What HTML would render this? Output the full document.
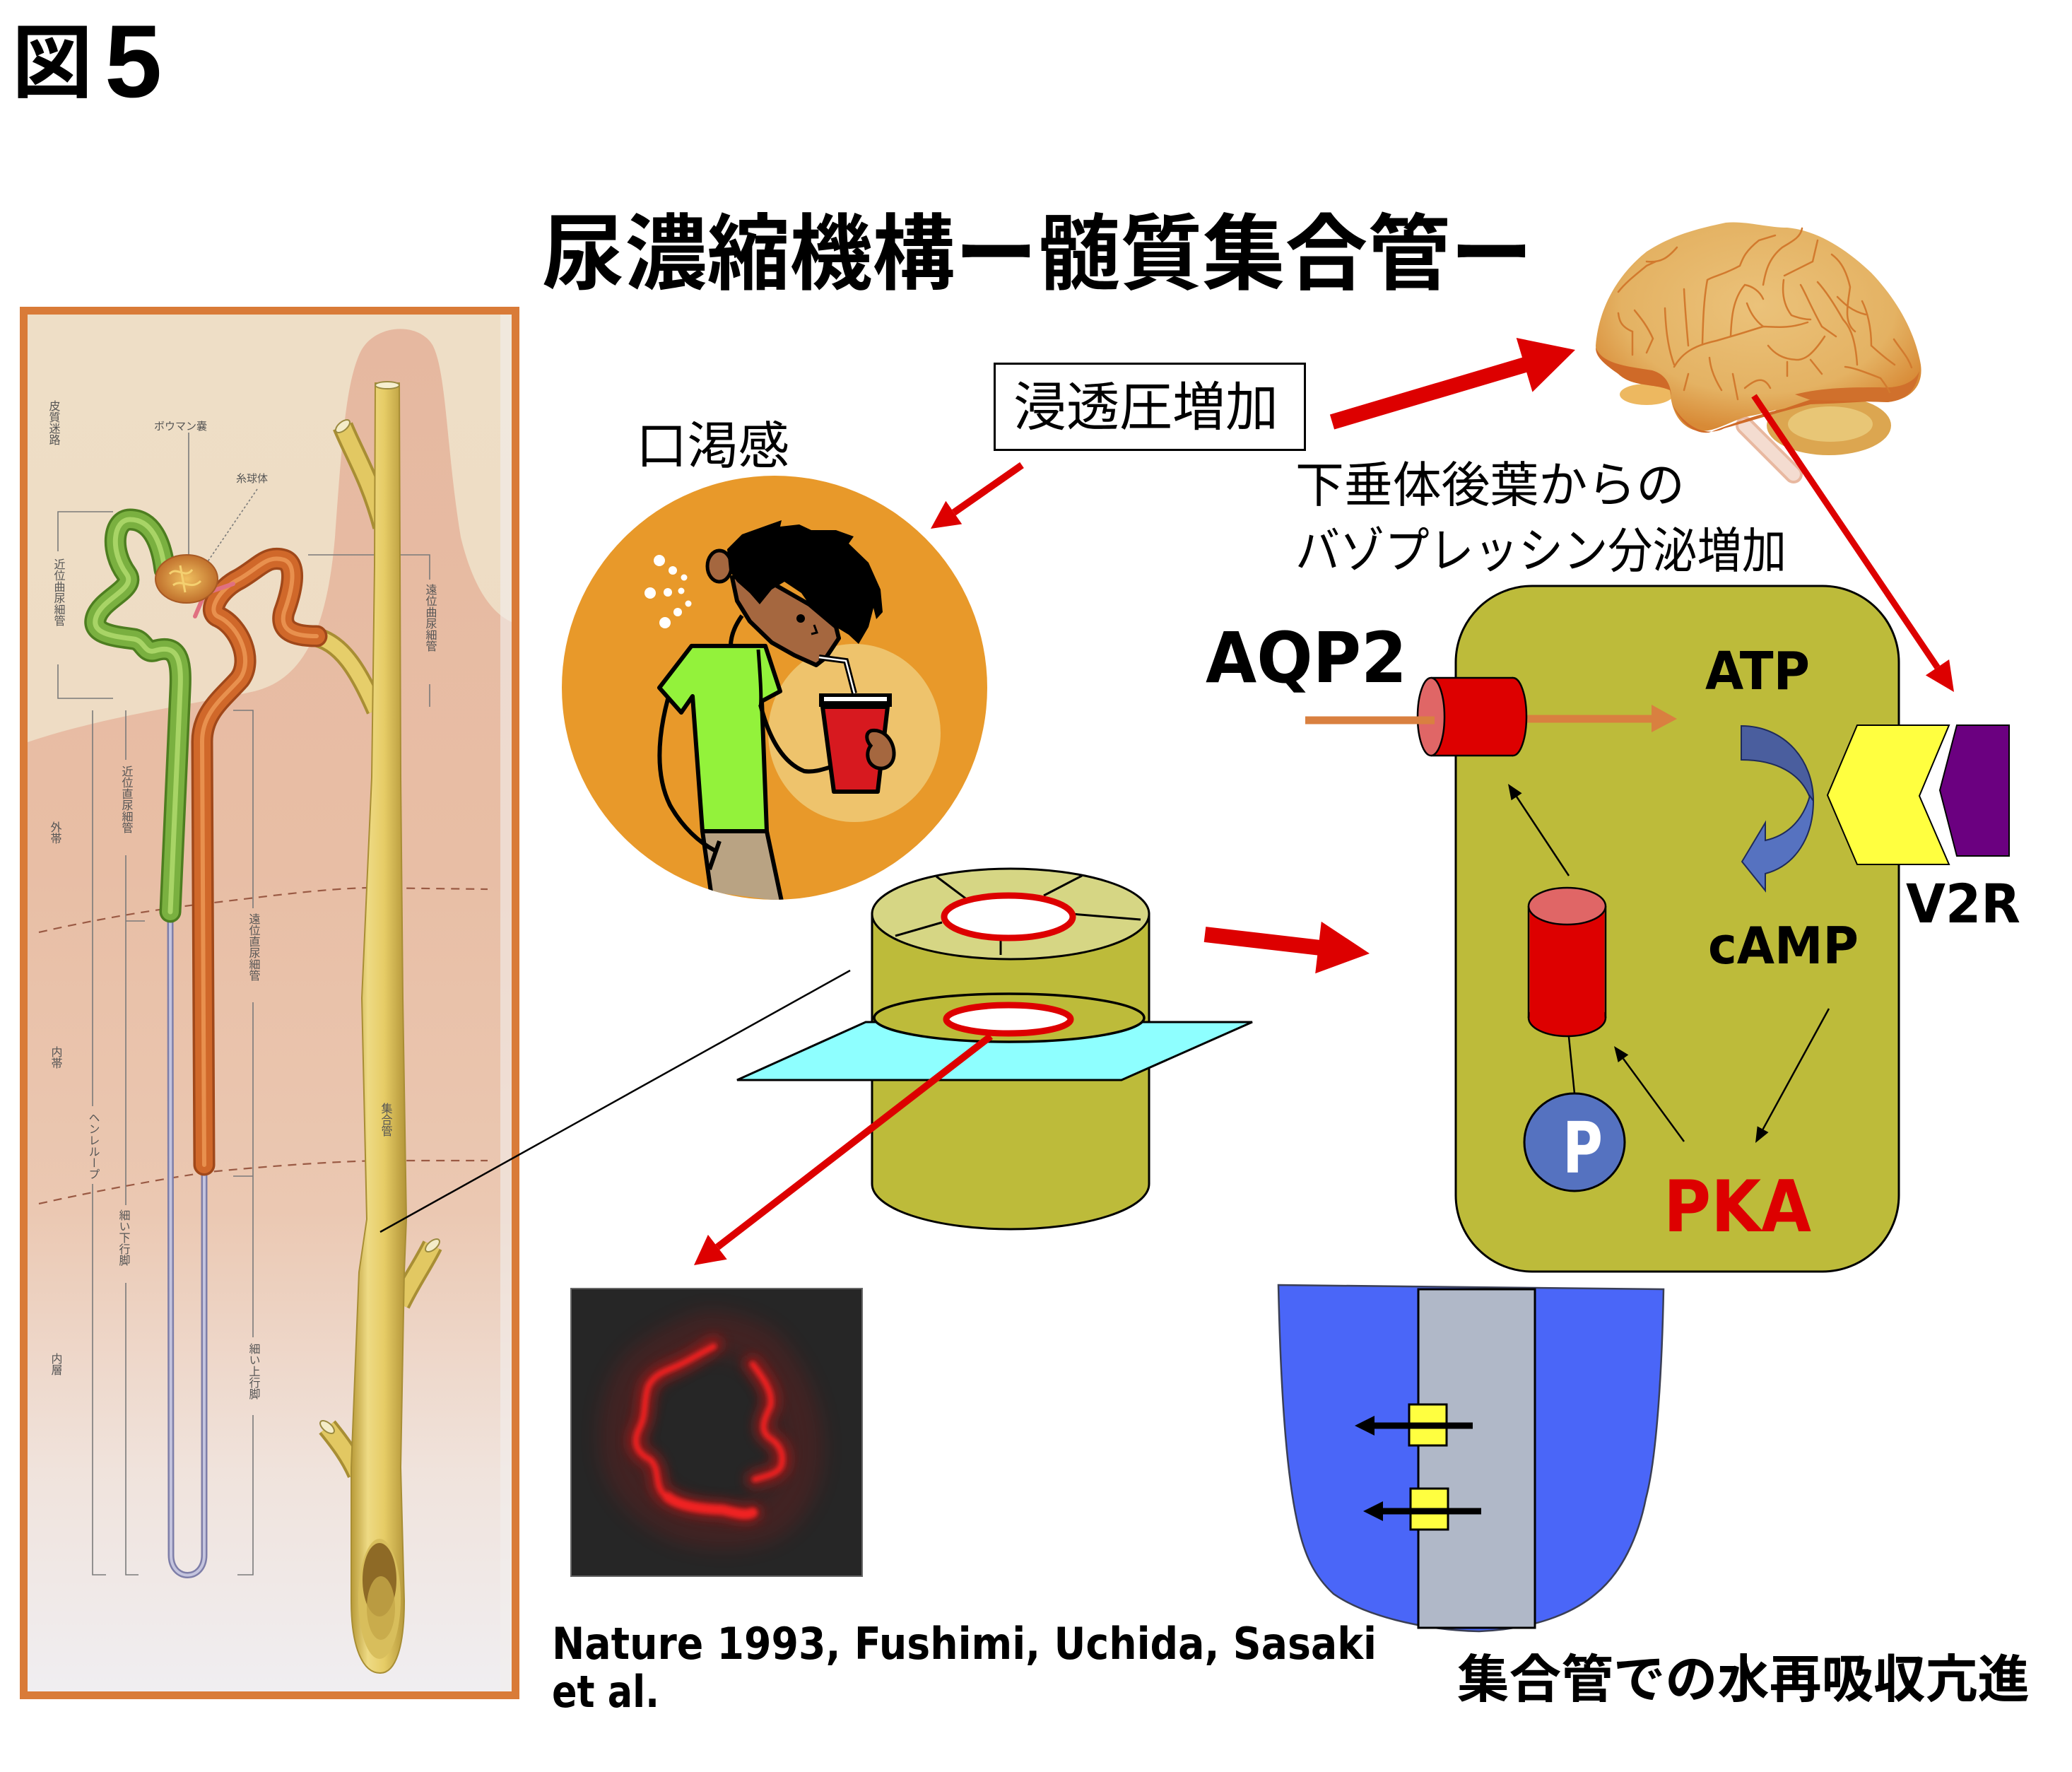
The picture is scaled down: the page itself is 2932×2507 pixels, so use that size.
<!DOCTYPE html>
<html><head><meta charset="utf-8">
<style>
html,body{margin:0;padding:0;background:#fff;}
svg{display:block;}
.jp{font-family:"Liberation Sans","Noto Sans CJK JP",sans-serif;}
.lb{font-family:"DejaVu Sans","Liberation Sans",sans-serif;font-weight:bold;}
</style></head>
<body>
<svg width="2932" height="2507" viewBox="0 0 2932 2507" xmlns="http://www.w3.org/2000/svg">
<defs>
  <linearGradient id="bgTop" x1="0" y1="0" x2="0" y2="1">
    <stop offset="0" stop-color="#EEDEC6"/>
    <stop offset="0.3" stop-color="#EEDCC4"/>
    <stop offset="1" stop-color="#EEDCC4"/>
  </linearGradient>
  <linearGradient id="pink" gradientUnits="userSpaceOnUse" x1="0" y1="450" x2="0" y2="2393">
    <stop offset="0" stop-color="#E6B8A0"/>
    <stop offset="0.4" stop-color="#E8BEA5"/>
    <stop offset="0.65" stop-color="#EBC8B2"/>
    <stop offset="0.84" stop-color="#F0E3DC"/>
    <stop offset="1" stop-color="#F0EEF1"/>
  </linearGradient>
  <linearGradient id="yel" x1="0" y1="0" x2="1" y2="0">
    <stop offset="0" stop-color="#B89A38"/>
    <stop offset="0.3" stop-color="#EEDA84"/>
    <stop offset="0.6" stop-color="#E6CC66"/>
    <stop offset="1" stop-color="#B29438"/>
  </linearGradient>
  <radialGradient id="brainG" cx="0.5" cy="0.4" r="0.6">
    <stop offset="0" stop-color="#EBC27A"/>
    <stop offset="0.7" stop-color="#E4B263"/>
    <stop offset="1" stop-color="#D88A36"/>
  </radialGradient>
  <radialGradient id="glom" cx="0.5" cy="0.5" r="0.5">
    <stop offset="0" stop-color="#F0C060"/>
    <stop offset="1" stop-color="#C0702C"/>
  </radialGradient>
  <filter id="blur3" x="-20%" y="-20%" width="140%" height="140%"><feGaussianBlur stdDeviation="3"/></filter>
  <filter id="blur8" x="-20%" y="-20%" width="140%" height="140%"><feGaussianBlur stdDeviation="8"/></filter>
  <filter id="blur14" x="-30%" y="-30%" width="160%" height="160%"><feGaussianBlur stdDeviation="14"/></filter>
  <clipPath id="circClip"><ellipse cx="1096" cy="973" rx="301" ry="300"/></clipPath>
  <clipPath id="nephClip"><rect x="39" y="445" width="685" height="1948"/></clipPath>
  <clipPath id="microClip"><rect x="808" y="1823" width="412" height="407"/></clipPath>
</defs>

<!-- 図5 -->
<text x="17" y="129" class="jp" font-size="114" font-weight="bold" fill="#000">図</text>
<text x="148" y="137" font-family="Liberation Sans, sans-serif" font-size="146" font-weight="bold" fill="#000">5</text>

<!-- Title -->
<text x="767" y="400" class="jp" font-size="117" font-weight="bold" fill="#000" textLength="1402" lengthAdjust="spacingAndGlyphs">尿濃縮機構ー髄質集合管ー</text>

<!-- ================= Nephron picture ================= -->
<g clip-path="url(#nephClip)">
  <rect x="39" y="445" width="685" height="1948" fill="url(#bgTop)"/>
  <path d="M39,1050 C150,1012 300,992 360,978 C425,962 462,900 474,760 C484,620 490,540 510,498 C530,458 592,455 612,488 C632,525 632,640 652,760 C672,842 702,870 724,880 L724,2393 L39,2393 Z" fill="url(#pink)"/>
  <rect x="708" y="445" width="16" height="1948" fill="#F2EEEC" opacity="0.6"/>

  <g stroke="#7A7A7A" stroke-width="1.6" fill="none">
    <path d="M160,724 L82,724 L82,780 M82,940 L82,988 L160,988"/>
    <path d="M131,1005 L131,1565 M131,1675 L131,2228 L150,2228"/>
    <path d="M178,1005 L178,1075 M178,1210 L178,1705 M178,1815 L178,2228 L196,2228"/>
    <path d="M330,1005 L358,1005 L358,1285 M358,1418 L358,1892 M358,2002 L358,2228 L336,2228"/>
    <path d="M436,785 L608,785 L608,820 M608,968 L608,1000"/>
    <path d="M267,612 L267,799"/>
    <path d="M364,692 L286,806" stroke-dasharray="3,3"/>
    <path d="M178,1303 L205,1303"/>
    <path d="M330,1664 L358,1664"/>
  </g>
  <g stroke="#9A5A44" stroke-width="2.2" fill="none" stroke-dasharray="12,9">
    <path d="M55,1319 C140,1300 200,1290 269,1281 C380,1268 450,1258 519,1256 L690,1258"/>
    <path d="M55,1703 C150,1682 230,1668 296,1658 C400,1648 480,1643 540,1642 L690,1642"/>
  </g>

  <g fill="none" stroke-linecap="butt">
    <path d="M485,603 C500,640 525,680 542,745" stroke="#A88E34" stroke-width="30"/>
    <path d="M485,603 C500,640 525,680 542,745" stroke="#E2C862" stroke-width="22"/>
    <path d="M612,1762 C598,1790 582,1812 566,1845" stroke="#A88E34" stroke-width="30"/>
    <path d="M612,1762 C598,1790 582,1812 566,1845" stroke="#E2C862" stroke-width="22"/>
    <path d="M463,2019 C480,2040 495,2060 506,2085" stroke="#A88E34" stroke-width="30"/>
    <path d="M463,2019 C480,2040 495,2060 506,2085" stroke="#E2C862" stroke-width="22"/>
    <path d="M440,900 C482,905 508,950 532,1005" stroke="#A88E34" stroke-width="28"/>
    <path d="M440,900 C482,905 508,950 532,1005" stroke="#E6CE6A" stroke-width="20"/>
  </g>
  <ellipse cx="485" cy="603" rx="12" ry="6" fill="#F4ECC8" stroke="#9A8A40" stroke-width="2" transform="rotate(-40 485 603)"/>
  <ellipse cx="612" cy="1762" rx="12" ry="6" fill="#F4ECC8" stroke="#9A8A40" stroke-width="2" transform="rotate(-40 612 1762)"/>
  <ellipse cx="463" cy="2019" rx="12" ry="6" fill="#F4ECC8" stroke="#9A8A40" stroke-width="2" transform="rotate(40 463 2019)"/>
  <path d="M531,542 L565,542 L566,800 L567,1100 L570,1412 L575,1725 L572,1800 L567,2076 L572,2265 C572,2330 560,2367 538,2367 C513,2367 497,2330 497,2265 L497,2076 L508,1800 L519,1725 L512,1412 L526,1100 L530,800 Z" fill="url(#yel)" stroke="#A88E34" stroke-width="2"/>
  <ellipse cx="548" cy="545" rx="17" ry="5" fill="#F6EFD0" stroke="#9A8A40" stroke-width="2"/>
  <ellipse cx="537" cy="2262" rx="30" ry="85" fill="#D8BE5C"/>
  <ellipse cx="537" cy="2235" rx="24" ry="52" fill="#8E6A26"/>
  <ellipse cx="539" cy="2275" rx="20" ry="45" fill="#C6A848" opacity="0.8"/>

  <path d="M241,1296 L242,2200 C242,2238 289,2238 289,2200 L289,1650" fill="none" stroke="#7E7EA8" stroke-width="9"/>
  <path d="M241,1296 L242,2200 C242,2238 289,2238 289,2200 L289,1650" fill="none" stroke="#C4C4DE" stroke-width="4"/>

  <g fill="none" stroke-linecap="round" stroke-linejoin="round">
    <path d="M233,806 C228,765 213,735 184,735 C160,735 155,779 179,812 C194,833 145,846 136,873 C128,897 160,900 189,904 C204,906 204,924 218,921 C252,910 257,934 255,975 L241,1290" stroke="#4D7E20" stroke-width="31"/>
    <path d="M233,806 C228,765 213,735 184,735 C160,735 155,779 179,812 C194,833 145,846 136,873 C128,897 160,900 189,904 C204,906 204,924 218,921 C252,910 257,934 255,975 L241,1290" stroke="#7AB040" stroke-width="24"/>
    <path d="M233,806 C228,765 213,735 184,735 C160,735 155,779 179,812 C194,833 145,846 136,873 C128,897 160,900 189,904 C204,906 204,924 218,921 C252,910 257,934 255,975 L241,1290" stroke="#A8D466" stroke-width="7"/>
  </g>
  <g fill="none" stroke-linecap="round" stroke-linejoin="round">
    <path d="M289,1648 L286,1049 C286,1008 315,988 339,961 C359,934 339,887 310,873 C291,866 310,833 339,819 C368,802 378,785 402,792 C422,799 412,839 402,866 C395,893 417,900 448,900" stroke="#A0481A" stroke-width="31"/>
    <path d="M289,1648 L286,1049 C286,1008 315,988 339,961 C359,934 339,887 310,873 C291,866 310,833 339,819 C368,802 378,785 402,792 C422,799 412,839 402,866 C395,893 417,900 448,900" stroke="#D0682A" stroke-width="24"/>
    <path d="M289,1648 L286,1049 C286,1008 315,988 339,961 C359,934 339,887 310,873 C291,866 310,833 339,819 C368,802 378,785 402,792 C422,799 412,839 402,866 C395,893 417,900 448,900" stroke="#E8904E" stroke-width="6"/>
  </g>
  <path d="M295,838 L330,826 M287,846 L276,872" stroke="#E07080" stroke-width="6" stroke-linecap="round"/>
  <ellipse cx="264" cy="819" rx="44" ry="34" fill="url(#glom)" stroke="#A85A24" stroke-width="2"/>
  <path d="M240,812 C250,800 262,820 272,806 M245,828 C258,818 270,836 284,822 M255,800 L262,838" stroke="#F4D070" stroke-width="3" fill="none"/>

  <g class="jp" font-size="15" fill="#555">
    <text x="218" y="608">ボウマン嚢</text>
    <text x="334" y="682">糸球体</text>
  </g>
  <g class="jp" font-size="16" fill="#555" style="writing-mode:vertical-rl" text-anchor="start">
    <text x="75" y="566">皮質迷路</text>
    <text x="82" y="790">近位曲尿細管</text>
    <text x="608" y="826">遠位曲尿細管</text>
    <text x="178" y="1083">近位直尿細管</text>
    <text x="77" y="1162">外帯</text>
    <text x="358" y="1292">遠位直尿細管</text>
    <text x="78" y="1480">内帯</text>
    <text x="131" y="1573">ヘンレループ</text>
    <text x="174" y="1711">細い下行脚</text>
    <text x="545" y="1560">集合管</text>
    <text x="78" y="1914">内層</text>
    <text x="358" y="1900">細い上行脚</text>
  </g>
</g>
<rect x="33.5" y="439.5" width="696" height="1959" fill="none" stroke="#D97B38" stroke-width="11"/>

<line x1="1203" y1="1373" x2="538" y2="1743" stroke="#000" stroke-width="2.5"/>

<!-- ================= Person circle ================= -->
<ellipse cx="1096" cy="973" rx="301" ry="300" fill="#E8992A"/>
<g clip-path="url(#circClip)">
  <ellipse cx="1209" cy="1037" rx="122" ry="126" fill="#EEC36C"/>
  <g fill="#fff">
    <circle cx="933" cy="793" r="8"/><circle cx="952" cy="807" r="6"/><circle cx="968" cy="817" r="4.5"/>
    <circle cx="920" cy="839" r="8"/><circle cx="945" cy="838" r="6"/><circle cx="964" cy="836" r="4.5"/>
    <circle cx="974" cy="854" r="4.5"/><circle cx="959" cy="866" r="6"/><circle cx="941" cy="881" r="8"/>
  </g>
  <polygon points="994,1176 1085,1176 1106,1275 1006,1262" fill="#B9A383"/>
  <path d="M994,1176 L1006,1262 M1085,1176 L1106,1275 M1018,1190 L1004,1230" stroke="#000" stroke-width="6" fill="none"/>
  <path d="M945,989 C931,1042 927,1096 948,1139 C966,1171 990,1192 1011,1203" stroke="#000" stroke-width="6" fill="none"/>
  <path d="M1050,871 C1040,885 1034,900 1034,914" stroke="#000" stroke-width="6" fill="none"/>
  <polygon points="978.5,913.9 1083,913.9 1104,978 1078,992 1085,1176 994,1176 980,985 964,1008 933,973" fill="#93F23B" stroke="#000" stroke-width="6" stroke-linejoin="round"/>
  <path d="M1073,919 C1076,960 1078,990 1076,1000" stroke="#000" stroke-width="5" fill="none"/>
  <path d="M1076,997 C1089,1048 1110,1080 1138,1091 C1152,1093 1166,1088 1176,1085" stroke="#000" stroke-width="6" fill="none"/>
  <polygon points="1036,817 1043,850 1061,879 1092,909 1124,927 1155,941 1169,930 1187,903 1183,887 1145,855 1089,823 1075,812" fill="#A5673F" stroke="#000" stroke-width="6" stroke-linejoin="round"/>
  <ellipse cx="1018" cy="801" rx="17" ry="22" fill="#A5673F" stroke="#000" stroke-width="5"/>
  <polygon points="1029,777 1050,756 1089,742 1106,736 1104,745 1131,742 1148,750 1183,750 1208,759 1201,769 1229,796 1246,834 1249,866 1240,876 1236,860 1229,887 1215,911 1201,898 1183,887 1145,855 1134,839 1110,823 1092,834 1075,855 1061,839 1043,823 1032,807" fill="#000"/>
  <circle cx="1133" cy="875" r="6" fill="#000"/>
  <path d="M1152,884 L1156,895 L1148,897" stroke="#000" stroke-width="3" fill="none"/>
  <polyline points="1159,930 1197,935 1209,981" fill="none" stroke="#000" stroke-width="8"/>
  <polyline points="1159,930 1197,935 1209,981" fill="none" stroke="#fff" stroke-width="2.5"/>
  <polygon points="1164,1000 1256,1000 1242,1120 1180,1120" fill="#D7191F" stroke="#000" stroke-width="6" stroke-linejoin="round"/>
  <rect x="1159" y="981" width="103" height="19" fill="#000"/>
  <rect x="1166" y="986" width="89" height="6" fill="#fff"/>
  <path d="M1232,1034 C1250,1030 1266,1048 1265,1068 C1264,1083 1252,1090 1240,1086 C1226,1080 1225,1064 1232,1055 C1226,1048 1224,1038 1232,1034 Z" fill="#A5673F" stroke="#000" stroke-width="5"/>
</g>

<text x="900" y="656" class="jp" font-size="72" fill="#000" textLength="217" lengthAdjust="spacingAndGlyphs">口渇感</text>

<rect x="1407.5" y="514.5" width="439" height="122" fill="#fff" stroke="#000" stroke-width="3"/>
<text x="1434" y="602" class="jp" font-size="75" fill="#000" textLength="375" lengthAdjust="spacingAndGlyphs">浸透圧増加</text>

<line x1="1446" y1="658" x2="1349.8" y2="725.1" stroke="#DD0000" stroke-width="10"/>
<polygon points="1317,748 1338.4,708.7 1361.2,741.5" fill="#DD0000"/>

<polygon points="1888.1,607.5 2160.2,526.8 2168.5,554.6 2229,495 2145.7,478.0 2154.0,505.8 1881.9,586.5" fill="#DD0000"/>

<!-- ================= Brain ================= -->
<g>
  <path d="M2469,602 L2538,671" stroke="#E8B8A0" stroke-width="26" stroke-linecap="round"/>
  <path d="M2469,602 L2538,671" stroke="#F4DCD0" stroke-width="18" stroke-linecap="round"/>
  <ellipse cx="2588" cy="602" rx="88" ry="42" fill="#DCA650"/>
  <ellipse cx="2590" cy="600" rx="60" ry="25" fill="#E8C676"/>
  <ellipse cx="2330" cy="558" rx="38" ry="15" fill="#EDB860"/>
  <path d="M2258,489 C2262,440 2285,392 2330,356 C2370,330 2410,322 2442,315 C2470,312 2500,322 2529,322 C2570,326 2610,350 2648,386 C2685,425 2710,470 2718,516 C2722,545 2705,565 2671,569 L2562,565 C2540,572 2500,585 2469,590 C2440,600 2420,615 2396,608 C2375,600 2365,580 2363,552 C2340,542 2310,548 2290,529 C2270,515 2258,505 2258,489 Z" fill="url(#brainG)"/>
  <path d="M2258,492 C2268,515 2300,518 2338,524 C2358,530 2364,545 2365,560 L2363,552 C2340,542 2310,548 2290,529 C2270,515 2258,505 2258,492 Z" fill="#CF6A28"/>
  <path d="M2366,572 C2380,602 2400,614 2418,612 C2445,602 2480,588 2525,578 L2560,566 C2600,560 2650,565 2685,562 C2660,568 2620,570 2562,572 C2520,582 2470,598 2440,606 C2420,616 2390,612 2366,572 Z" fill="#CF6A28"/>
  <path d="M2540,558 C2580,548 2620,548 2660,548 C2690,550 2710,540 2716,525 C2712,550 2700,566 2671,569 L2562,566 Z" fill="#D0702C"/>
  <g fill="none" stroke="#D27A2E" stroke-width="2.5" stroke-linecap="round">
    <path d="M2290,413 C2300,400 2313,390 2330,376 L2343,370"/>
    <path d="M2369,519 C2380,500 2396,489 2429,482 C2450,476 2470,470 2495,462 C2510,462 2529,466 2558,456"/>
    <path d="M2409,486 C2410,450 2411,423 2416,396 C2426,390 2436,390 2462,376 C2466,366 2469,356 2489,340 L2512,333"/>
    <path d="M2495,403 C2498,386 2502,366 2522,350 C2535,342 2548,336 2550,323"/>
    <path d="M2525,390 C2535,385 2545,380 2565,370 L2572,340"/>
    <path d="M2592,360 C2600,366 2611,376 2618,406 C2615,430 2608,456 2625,469"/>
    <path d="M2635,426 C2642,440 2648,462 2648,489 C2660,500 2671,509 2681,516"/>
    <path d="M2449,476 C2450,450 2452,423 2469,403 C2480,405 2490,412 2495,423"/>
    <path d="M2472,429 C2476,440 2482,452 2495,462"/>
    <path d="M2524,396 C2522,410 2522,429 2535,446 C2545,450 2555,452 2562,452"/>
    <path d="M2548,403 C2555,415 2562,433 2578,462 L2598,476"/>
    <path d="M2572,399 C2582,410 2595,429 2608,452 C2615,460 2625,472 2628,516"/>
    <path d="M2383,409 C2384,430 2386,456 2389,489"/>
    <path d="M2356,436 C2357,460 2359,489 2369,516"/>
    <path d="M2313,439 C2320,448 2330,459 2339,479 L2330,499"/>
    <path d="M2290,443 C2291,452 2293,462 2310,469 L2310,502"/>
    <path d="M2419,506 C2420,515 2422,529 2436,552"/>
    <path d="M2452,529 L2459,565"/>
    <path d="M2469,549 C2480,540 2495,529 2505,549"/>
    <path d="M2502,489 C2510,499 2522,509 2545,509 C2552,508 2562,506 2582,476"/>
    <path d="M2529,512 L2529,532"/>
    <path d="M2562,509 L2578,529"/>
    <path d="M2389,529 L2383,552"/>
    <path d="M2611,519 C2620,520 2628,522 2661,535 C2667,543 2672,550 2674,555"/>
    <path d="M2330,370 C2350,372 2360,365 2373,350"/>
    <path d="M2600,420 C2610,430 2620,440 2640,445"/>
    <path d="M2680,480 C2690,495 2700,505 2705,520"/>
  </g>
</g>

<line x1="2482" y1="560" x2="2741.5" y2="944.2" stroke="#DD0000" stroke-width="9"/>
<polygon points="2765,979 2724.9,955.4 2758.1,933.0" fill="#DD0000"/>

<text x="1833" y="710" class="jp" font-size="69" fill="#000" textLength="551" lengthAdjust="spacingAndGlyphs">下垂体後葉からの</text>
<text x="1833" y="803" class="jp" font-size="69" fill="#000" textLength="695" lengthAdjust="spacingAndGlyphs">バゾプレッシン分泌増加</text>

<!-- ================= Cell ================= -->
<rect x="2060" y="829" width="627" height="970" rx="108" ry="108" fill="#BDBB3A" stroke="#000" stroke-width="3"/>

<polygon points="2628,1026 2758,1026 2716,1126 2758,1223 2628,1223 2586,1125" fill="#FFFF40" stroke="#000" stroke-width="2"/>
<polygon points="2769,1026 2843,1026 2843,1211 2769,1211 2745,1118" fill="#6B0080" stroke="#000" stroke-width="2"/>
<text x="2697" y="1305" class="lb" font-size="76" fill="#000" textLength="162" lengthAdjust="spacingAndGlyphs">V2R</text>

<text x="1706" y="965" class="lb" font-size="99" fill="#000" textLength="285" lengthAdjust="spacingAndGlyphs">AQP2</text>
<line x1="2150" y1="1017" x2="2340" y2="1017" stroke="#D98040" stroke-width="11"/>
<polygon points="2337,997 2373,1017 2337,1036" fill="#D98040"/>
<ellipse cx="2141" cy="1014" rx="19" ry="55" fill="#DD0000" stroke="#000" stroke-width="2.5"/>
<rect x="2025" y="959" width="116" height="110" fill="#DD0000"/>
<line x1="2025" y1="959" x2="2141" y2="959" stroke="#000" stroke-width="2.5"/>
<line x1="2025" y1="1069" x2="2141" y2="1069" stroke="#000" stroke-width="2.5"/>
<ellipse cx="2025" cy="1014" rx="19" ry="55" fill="#E06666" stroke="#000" stroke-width="2.5"/>
<line x1="1847" y1="1019" x2="2030" y2="1019" stroke="#D98040" stroke-width="11"/>

<text x="2413" y="975" class="lb" font-size="74" fill="#000" textLength="148" lengthAdjust="spacingAndGlyphs">ATP</text>
<text x="2417" y="1363" class="lb" font-size="72" fill="#000" textLength="213" lengthAdjust="spacingAndGlyphs">cAMP</text>

<path d="M2464,1027 C2525,1027 2566,1075 2566,1133 L2561,1128 C2548,1095 2515,1075 2464,1075 Z" fill="#4A5E9E" stroke="#1E2A5A" stroke-width="2"/>
<path d="M2561,1126 C2550,1165 2525,1183 2498,1189 L2498,1164 L2465,1219 L2498,1260 L2498,1236 C2540,1225 2566,1185 2566,1133 Z" fill="#5672C0" stroke="#1E2A5A" stroke-width="2"/>

<ellipse cx="2217.5" cy="1440" rx="54.5" ry="26" fill="#DD0000" stroke="#000" stroke-width="2.5"/>
<rect x="2164.5" y="1282" width="106" height="158" fill="#DD0000"/>
<line x1="2163" y1="1282" x2="2163" y2="1440" stroke="#000" stroke-width="2.5"/>
<line x1="2272" y1="1282" x2="2272" y2="1440" stroke="#000" stroke-width="2.5"/>
<ellipse cx="2217.5" cy="1282" rx="54.5" ry="26" fill="#E06666" stroke="#000" stroke-width="2.5"/>
<line x1="2220" y1="1467" x2="2228" y2="1547" stroke="#000" stroke-width="2.5"/>

<ellipse cx="2228" cy="1616" rx="71" ry="69" fill="#5572C0" stroke="#000" stroke-width="3"/>
<text x="2211" y="1659" class="lb" font-size="100" fill="#fff" textLength="57" lengthAdjust="spacingAndGlyphs">P</text>

<text x="2354" y="1742" class="lb" font-size="101" fill="#DD0000" textLength="209" lengthAdjust="spacingAndGlyphs">PKA</text>

<line x1="2220" y1="1239" x2="2146" y2="1127" stroke="#000" stroke-width="2.5"/>
<polygon points="2134,1109 2153.6,1122.3 2138.6,1132.3" fill="#000"/>
<line x1="2588" y1="1427" x2="2494.6" y2="1597.7" stroke="#000" stroke-width="2.5"/>
<polygon points="2484,1617 2486.7,1593.4 2502.5,1602.0" fill="#000"/>
<line x1="2383" y1="1615" x2="2297" y2="1497.7" stroke="#000" stroke-width="2.5"/>
<polygon points="2284,1480 2304.3,1492.4 2289.7,1503.0" fill="#000"/>

<!-- ================= Tube cylinder ================= -->
<path d="M1234,1293 L1234,1675 A196,64 0 0 0 1626,1675 L1626,1293 Z" fill="#BDBB3A" stroke="#000" stroke-width="3"/>
<polygon points="1225,1446 1772,1446 1587,1528 1043,1528" fill="#8EFFFF" stroke="#000" stroke-width="3"/>
<ellipse cx="1428" cy="1440" rx="191" ry="34" fill="#BDBB3A" stroke="#000" stroke-width="3.5"/>
<ellipse cx="1427" cy="1442" rx="88" ry="20" fill="#fff" stroke="#DD0000" stroke-width="9"/>
<ellipse cx="1430" cy="1293" rx="196" ry="64" fill="#D6D684" stroke="#000" stroke-width="3"/>
<g stroke="#000" stroke-width="3">
  <line x1="1325" y1="1240" x2="1369" y2="1273"/>
  <line x1="1531" y1="1239" x2="1477" y2="1267"/>
  <line x1="1517" y1="1293" x2="1614" y2="1301"/>
  <line x1="1333" y1="1305" x2="1267" y2="1324"/>
  <line x1="1416" y1="1324" x2="1416" y2="1351"/>
</g>
<ellipse cx="1427" cy="1297" rx="91" ry="30" fill="#fff" stroke="#DD0000" stroke-width="9"/>

<line x1="1402" y1="1466" x2="1015.3" y2="1764.3" stroke="#DD0000" stroke-width="10"/>
<polygon points="982,1790 1001.9,1746.9 1028.7,1781.7" fill="#DD0000"/>

<polygon points="1703.7,1332.9 1864.2,1351.5 1861.2,1377.3 1938,1349 1869.8,1303.9 1866.8,1329.7 1706.3,1311.1" fill="#DD0000"/>

<!-- ================= Micrograph ================= -->
<rect x="808" y="1823" width="412" height="407" fill="#262626" stroke="#666" stroke-width="2"/>
<g clip-path="url(#microClip)" fill="none" stroke-linecap="round" stroke-linejoin="round">
  <g stroke="#B01414" stroke-width="60" opacity="0.2" filter="url(#blur14)">
    <path d="M1000,1885 C960,1900 930,1915 905,1940 C880,1975 875,2020 880,2060 C890,2105 920,2130 960,2150 C1000,2165 1050,2165 1085,2150 C1120,2130 1135,2090 1135,2050 C1135,2000 1115,1950 1080,1910 C1060,1895 1030,1885 1000,1885 Z"/>
  </g>
  <g stroke="#C01818" stroke-width="26" opacity="0.6" filter="url(#blur8)">
    <path d="M1010,1902 C990,1915 975,1925 957,1933 C940,1940 925,1945 917,1962 C910,1985 915,2000 905,2020 C895,2040 900,2055 920,2065 C935,2080 925,2100 940,2115 C960,2130 990,2135 1023,2136 C1040,2140 1055,2145 1065,2140"/>
    <path d="M1068,2093 C1085,2088 1100,2085 1105,2075 C1110,2060 1105,2045 1090,2035 C1075,2025 1080,2010 1090,1990 C1095,1970 1080,1950 1065,1930"/>
  </g>
  <g stroke="#F02020" stroke-width="8" filter="url(#blur3)">
    <path d="M1010,1905 C990,1915 975,1925 957,1933 C940,1940 925,1945 917,1962 C910,1985 915,2000 905,2020 C895,2040 900,2055 920,2065 C935,2080 925,2100 940,2115"/>
    <path d="M945,2118 C960,2130 990,2135 1023,2136 C1040,2140 1055,2145 1065,2140" stroke-width="14"/>
    <path d="M1068,2093 C1085,2088 1100,2085 1105,2075 C1110,2060 1105,2045 1090,2035 C1075,2025 1080,2010 1090,1990 C1095,1970 1080,1950 1065,1930"/>
  </g>
</g>

<!-- ================= Blue collecting duct schematic ================= -->
<path d="M1809,1818 L2354,1824 C2352,1930 2345,2060 2329,2120 C2318,2175 2295,2225 2258,2255 C2225,2283 2170,2305 2093,2308 C2010,2306 1930,2285 1887,2255 C1860,2230 1845,2200 1835,2150 C1820,2080 1812,1960 1809,1818 Z" fill="#4A66F8" stroke="#3A3F55" stroke-width="2.5"/>
<rect x="2007" y="1824" width="165" height="479" fill="#B0B8C8" stroke="#000" stroke-width="3"/>
<rect x="1994" y="1987" width="53" height="58" fill="#FFFF40" stroke="#000" stroke-width="3"/>
<rect x="1996" y="2106" width="53" height="58" fill="#FFFF40" stroke="#000" stroke-width="3"/>
<line x1="2084" y1="2017" x2="1940" y2="2017" stroke="#000" stroke-width="9"/>
<polygon points="1917,2017 1945,2003 1945,2031" fill="#000"/>
<line x1="2096" y1="2138" x2="1952" y2="2138" stroke="#000" stroke-width="9"/>
<polygon points="1929,2138 1957,2124 1957,2152" fill="#000"/>

<text x="781" y="2347" class="lb" font-size="62" fill="#000" textLength="1167" lengthAdjust="spacingAndGlyphs">Nature 1993, Fushimi, Uchida, Sasaki</text>
<text x="781" y="2415" class="lb" font-size="62" fill="#000" textLength="152" lengthAdjust="spacingAndGlyphs">et al.</text>
<text x="2062" y="2401" class="jp" font-size="73" font-weight="bold" fill="#000" textLength="810" lengthAdjust="spacingAndGlyphs">集合管での水再吸収亢進</text>
</svg>
</body></html>
